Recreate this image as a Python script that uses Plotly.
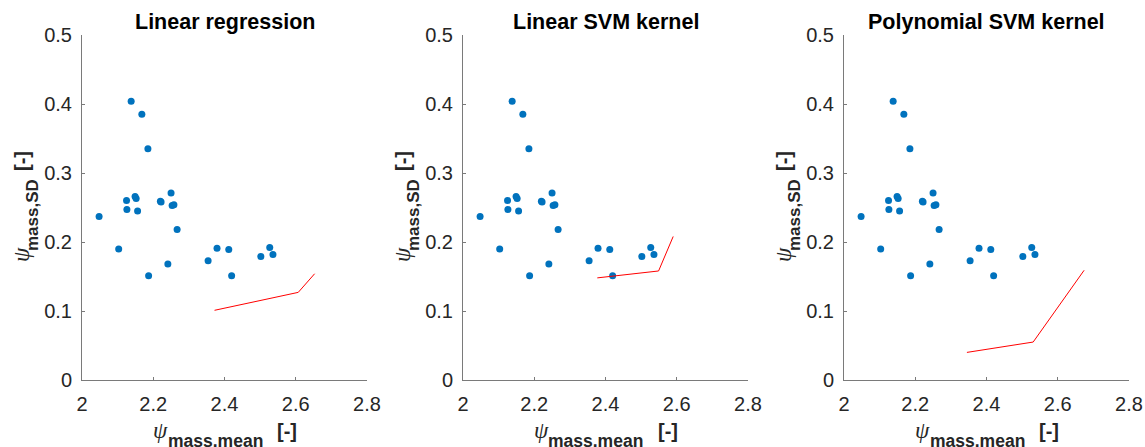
import plotly.graph_objects as go

# ---- data ----
titles = ["Linear regression", "Linear SVM kernel", "Polynomial SVM kernel"]

psi_mean = [2.138, 2.168, 2.185, 2.048, 2.125, 2.126, 2.149, 2.152, 2.156, 2.220,
            2.222, 2.250, 2.253, 2.258, 2.267, 2.103, 2.187, 2.241, 2.354, 2.379,
            2.412, 2.420, 2.502, 2.527, 2.536]
psi_sd = [0.404, 0.385, 0.335, 0.237, 0.260, 0.247, 0.266, 0.263, 0.245, 0.259,
          0.258, 0.271, 0.253, 0.254, 0.218, 0.190, 0.151, 0.168, 0.173, 0.191,
          0.189, 0.151, 0.179, 0.192, 0.182]

boundary_x = [
    [2.372, 2.607, 2.653],
    [2.377, 2.549, 2.590],
    [2.345, 2.531, 2.674],
]
boundary_y = [
    [0.101, 0.127, 0.154],
    [0.148, 0.158, 0.208],
    [0.040, 0.055, 0.159],
]

x_ticks = [2, 2.2, 2.4, 2.6, 2.8]
y_ticks = [0, 0.1, 0.2, 0.3, 0.4, 0.5]
x_label_sym, x_label_sub, unit_label = "ψ", "mass.mean", "[-]"
y_label_sym, y_label_sub = "ψ", "mass,SD"

W, H = 1145, 447
x_domains_px = [(82, 367), (463, 748), (844, 1129)]
y_domain_px = (35, 380)  # top, bottom


def fx(px):
    return px / W


def fy(py):
    return 1 - py / H


AXIS_COLOR = "#7a7a7a"
TEXT_COLOR = "#262626"
FONT = "Liberation Sans, Arial, sans-serif"
SERIF = "Liberation Serif, Times New Roman, serif"

fig = go.Figure()
annotations = []


def ann(text, px, py, size, family=FONT, angle=0, color=TEXT_COLOR):
    annotations.append(dict(
        text=text, x=fx(px), y=fy(py), xref="paper", yref="paper",
        xanchor="center", yanchor="middle", showarrow=False, textangle=angle,
        font=dict(family=family, size=size, color=color),
    ))


for i in range(3):
    sfx = "" if i == 0 else str(i + 1)
    xa = "x" + sfx
    ya = "y" + sfx
    fig.add_trace(go.Scatter(
        x=psi_mean, y=psi_sd, mode="markers", xaxis=xa, yaxis=ya,
        marker=dict(color="#0072BD", size=7, line=dict(width=0)),
        showlegend=False, cliponaxis=False,
    ))
    fig.add_trace(go.Scatter(
        x=boundary_x[i], y=boundary_y[i], mode="lines", xaxis=xa, yaxis=ya,
        line=dict(color="#FF0000", width=1),
        showlegend=False,
    ))
    x0, x1 = x_domains_px[i]
    dom_x = [fx(x0), fx(x1)]
    dom_y = [fy(y_domain_px[1]), fy(y_domain_px[0])]
    common = dict(
        showline=True, linecolor=AXIS_COLOR, linewidth=1,
        ticks="inside", ticklen=3, tickcolor=AXIS_COLOR, tickwidth=1,
        showgrid=False, zeroline=False, mirror=False,
        tickfont=dict(family=FONT, size=20, color=TEXT_COLOR),
        fixedrange=True, automargin=False,
    )
    fig.update_layout(**{
        "xaxis" + sfx: dict(domain=dom_x, range=[2, 2.8], tickvals=x_ticks,
                            anchor=ya, ticklabelstandoff=6, **common),
        "yaxis" + sfx: dict(domain=dom_y, range=[0, 0.5], tickvals=y_ticks,
                            anchor=xa, ticklabelstandoff=5, **common),
    })
    cx = (x0 + x1) / 2
    # title
    ann("<b>%s</b>" % titles[i], cx, 22, 21.5, color="#000000")
    # x axis title
    ann("<i>%s</i>" % x_label_sym, x0 + 78, 430, 23, family=SERIF)
    ann("<b>%s</b>" % x_label_sub, x0 + 133, 441, 17.5)
    ann("<b>%s</b>" % unit_label, x0 + 204.5, 431, 20)
    # y axis title (rotated)
    ann("<i>%s</i>" % y_label_sym, x0 - 60, 255, 23, family=SERIF, angle=-90)
    ann("<b>%s</b>" % y_label_sub, x0 - 49, 215, 17, angle=-90)
    ann("<b>%s</b>" % unit_label, x0 - 60, 161, 20, angle=-90)

fig.update_layout(
    width=W, height=H,
    margin=dict(l=0, r=0, t=0, b=0, autoexpand=False),
    paper_bgcolor="white", plot_bgcolor="white",
    annotations=annotations,
    font=dict(family=FONT),
)

fig.write_html(
    "out.html",
    config={"displayModeBar": False},
    post_script="document.body.style.margin='0px';"
                "document.body.style.overflow='hidden';",
)
